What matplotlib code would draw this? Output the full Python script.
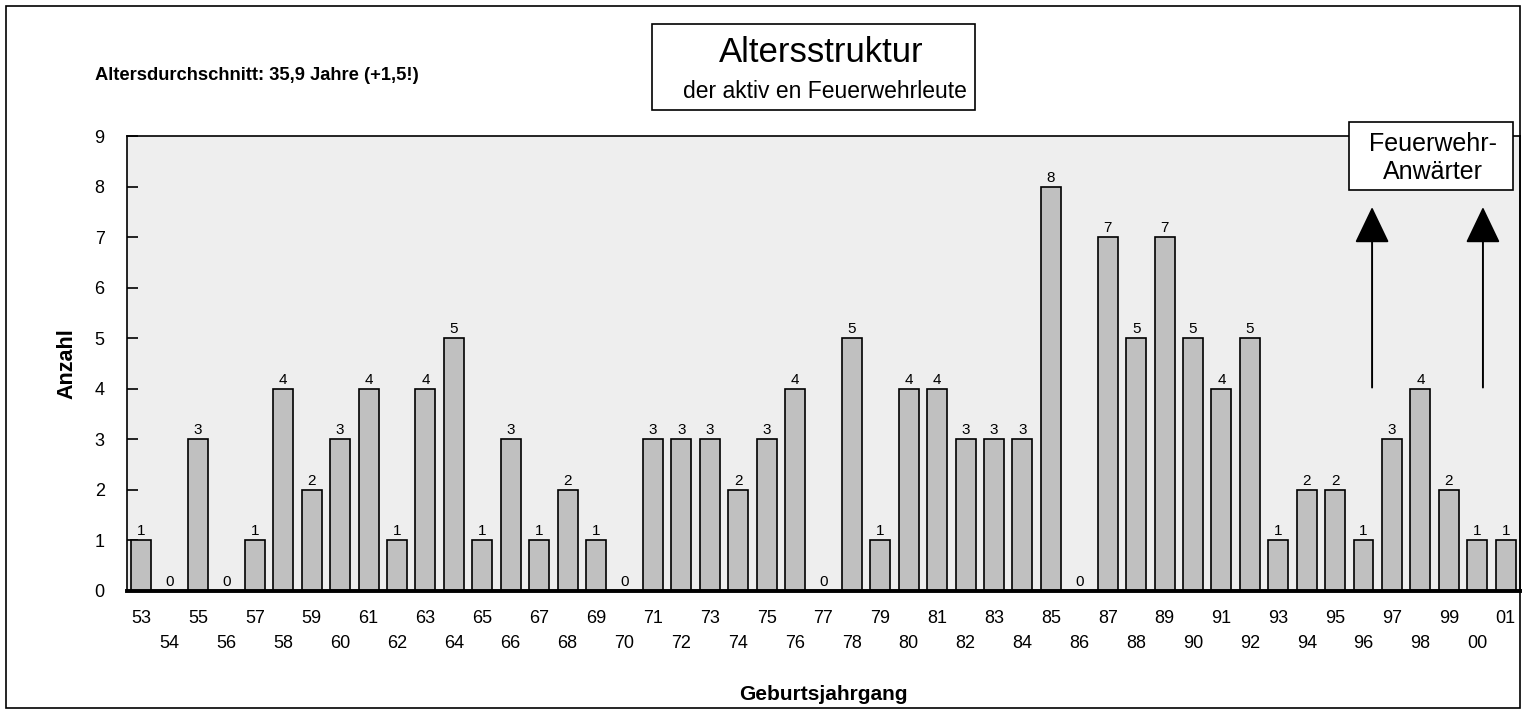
#!/usr/bin/python

"""
Altersstruktur der aktiven Feuerwehrleute
"""
import matplotlib
matplotlib.use('Agg')
import matplotlib.pyplot as plt
from matplotlib.patches import Rectangle

years = ['53', '54', '55', '56', '57', '58', '59', '60', '61', '62',
         '63', '64', '65', '66', '67', '68', '69', '70', '71', '72',
         '73', '74', '75', '76', '77', '78', '79', '80', '81', '82',
         '83', '84', '85', '86', '87', '88', '89', '90', '91', '92',
         '93', '94', '95', '96', '97', '98', '99', '00', '01']
counts = [1, 0, 3, 0, 1, 4, 2, 3, 4, 1,
          4, 5, 1, 3, 1, 2, 1, 0, 3, 3,
          3, 2, 3, 4, 0, 5, 1, 4, 4, 3,
          3, 3, 8, 0, 7, 5, 7, 5, 4, 5,
          1, 2, 2, 1, 3, 4, 2, 1, 1]
y_ticks = list(range(0, 10))


def main():
    plt.rcParams['font.family'] = ['Liberation Sans', 'DejaVu Sans']
    fig = plt.figure(figsize=(15.26, 7.14), dpi=100)
    ax = fig.add_axes([0.0832, 0.1723, 0.9128, 0.6372])
    ax.set_facecolor('#eeeeee')

    x = list(range(len(years)))
    ax.bar(x, counts, width=0.7, color='#c0c0c0', edgecolor='black',
           linewidth=1.2, zorder=2)
    for xi, c in zip(x, counts):
        ax.text(xi, c + 0.04, str(c), ha='center', va='bottom',
                fontsize=11, zorder=3)

    ax.set_xlim(-0.5, len(years) - 0.5)
    ax.set_ylim(0, 9)
    ax.set_yticks(y_ticks)
    ax.set_xticks(x)
    ax.set_xticklabels([y if i % 2 == 0 else '\n' + y
                        for i, y in enumerate(years)], fontsize=13,
                       linespacing=1.55)
    ax.tick_params(axis='x', length=0, pad=14)
    ax.tick_params(axis='y', direction='in', length=8, width=1.2,
                   labelsize=13, pad=16)
    for s in ['left', 'top', 'right']:
        ax.spines[s].set_linewidth(1.2)
    ax.spines['bottom'].set_linewidth(2.8)

    ax.set_ylabel('Anzahl', fontsize=15.5, fontweight='bold', labelpad=12)
    ax.set_xlabel('Geburtsjahrgang', fontsize=15, fontweight='bold',
                  labelpad=24)

    # Pfeile fuer Feuerwehr-Anwaerter
    for ax_x in [43.3, 47.2]:
        ax.annotate('', xy=(ax_x, 7.65), xytext=(ax_x, 3.97),
                    arrowprops=dict(arrowstyle='-|>,head_width=1.1,head_length=2.3',
                                    color='black', lw=1.4), zorder=4)

    # Rahmen um die ganze Grafik
    fig.patches.append(Rectangle((6 / 1526, 6 / 714), 1514 / 1526, 702 / 714,
                                 transform=fig.transFigure, fill=False,
                                 edgecolor='black', linewidth=1.2))

    fig.text(95 / 1526, 1 - 75 / 714, 'Altersdurchschnitt: 35,9 Jahre (+1,5!)',
             fontsize=13.2, fontweight='bold', va='center', ha='left')

    fig.patches.append(Rectangle((652 / 1526, 1 - 110 / 714), 323 / 1526,
                                 86 / 714, transform=fig.transFigure,
                                 facecolor='white', edgecolor='black',
                                 linewidth=1.2))
    fig.text(821 / 1526, 1 - 52 / 714, 'Altersstruktur', fontsize=25,
             ha='center', va='center')
    fig.text(825 / 1526, 1 - 91 / 714, 'der aktiv en Feuerwehrleute',
             fontsize=16.5, ha='center', va='center')

    fig.patches.append(Rectangle((1349 / 1526, 1 - 190 / 714), 164 / 1526,
                                 68 / 714, transform=fig.transFigure,
                                 facecolor='white', edgecolor='black',
                                 linewidth=1.2, zorder=5))
    fig.text(1433 / 1526, 1 - 144 / 714, 'Feuerwehr-', fontsize=18,
             ha='center', va='center', zorder=6)
    fig.text(1433 / 1526, 1 - 172 / 714, 'Anwärter', fontsize=18,
             ha='center', va='center', zorder=6)

    fig.savefig('out.png', dpi=100)


if __name__ == '__main__':
    main()
